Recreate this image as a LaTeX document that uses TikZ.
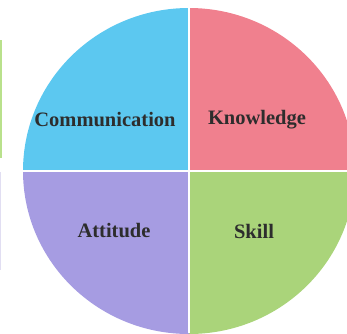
\documentclass[tikz,border=0pt]{standalone}
\usepackage{fontspec}
\setmainfont{Liberation Serif}
\definecolor{qblue}{RGB}{92,200,240}
\definecolor{qpink}{RGB}{240,128,142}
\definecolor{qpurple}{RGB}{166,156,226}
\definecolor{qgreen}{RGB}{170,212,122}
\definecolor{qtext}{RGB}{45,45,45}
\definecolor{stripgreen}{RGB}{185,225,140}
\definecolor{striplav}{RGB}{225,222,242}
\tikzset{
  lbl/.style={font=\bfseries\fontsize{20.5}{24}\selectfont, text=qtext, inner sep=0pt},
}
\begin{document}
\begin{tikzpicture}[x=1pt,y=-1pt]
\useasboundingbox (0,0) rectangle (347,333);
\clip (0,0) rectangle (347,333);
\coordinate (c) at (189,171);
\begin{scope}
  \clip (0,0) rectangle (189,171);
  \fill[qblue] (c) ellipse [x radius=166, y radius=163];
\end{scope}
\begin{scope}
  \clip (189,0) rectangle (347,171);
  \fill[qpink] (c) ellipse [x radius=166, y radius=163];
\end{scope}
\begin{scope}
  \clip (0,171) rectangle (189,333);
  \fill[qpurple] (c) ellipse [x radius=166, y radius=163];
\end{scope}
\begin{scope}
  \clip (189,171) rectangle (347,333);
  \fill[qgreen] (c) ellipse [x radius=166, y radius=163];
\end{scope}
\draw[white, line width=2.5pt] (189,0) -- (189,333);
\draw[white, line width=2.5pt] (0,171) -- (347,171);
\fill[stripgreen] (0,40) rectangle (1.5,158);
\fill[striplav] (0,172) rectangle (1.2,270);
\node[lbl] (comm) at (105,120) {Communication};
\node[lbl] (know) at (257,120) {Knowledge};
\node[lbl] (att) at (114,231) {Attitude};
\node[lbl] (skill) at (254,231) {Skill};
\end{tikzpicture}
\end{document}
